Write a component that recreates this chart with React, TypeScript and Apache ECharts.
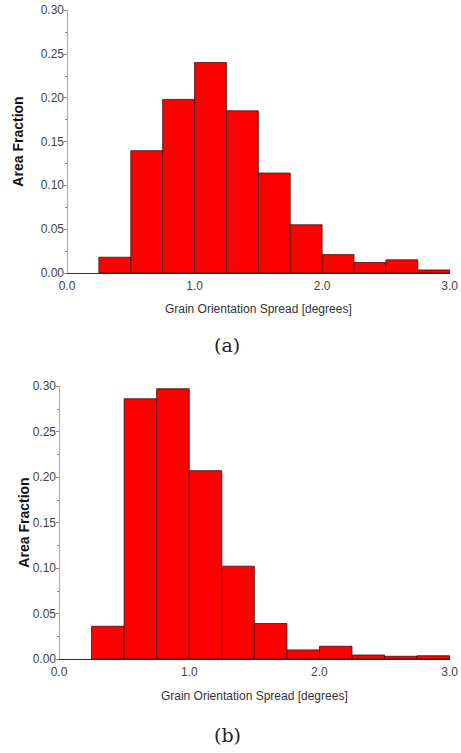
import React, { useEffect, useRef } from "react";
import * as echarts from "echarts";

const binStarts = [0.25, 0.5, 0.75, 1.0, 1.25, 1.5, 1.75, 2.0, 2.25, 2.5, 2.75];
const binWidth = 0.25;
const valuesA = [0.018, 0.1395, 0.198, 0.24, 0.185, 0.114, 0.055, 0.021, 0.012, 0.015, 0.0035];
const valuesB = [0.036, 0.286, 0.297, 0.207, 0.102, 0.039, 0.01, 0.014, 0.0044, 0.003, 0.0036];
const xTitle = "Grain Orientation Spread [degrees]";
const yTitle = "Area Fraction";
const captions = ["(a)", "(b)"];

const renderBar = (params: any, api: any) => {
  const x0 = api.value(0);
  const x1 = api.value(1);
  const v = api.value(2);
  const p0 = api.coord([x0, v]);
  const p1 = api.coord([x1, 0]);
  return {
    type: "rect",
    shape: { x: p0[0], y: p0[1], width: p1[0] - p0[0], height: p1[1] - p0[1] },
    style: { fill: "#ff0000", stroke: "#3a1010", lineWidth: 0.8 },
  };
};

const mkData = (vals: number[]) => vals.map((v, i) => [binStarts[i], binStarts[i] + binWidth, v]);

export default function App() {
  const ref = useRef<HTMLDivElement>(null);
  useEffect(() => {
    if (!ref.current) return;
    const chart = echarts.init(ref.current, undefined, { renderer: "svg" });
    const font = "Liberation Sans";
    const xAxis = (gi: number, gap: number, fs: number) => ({
      type: "value",
      gridIndex: gi,
      min: 0,
      max: 3,
      interval: 1,
      name: xTitle,
      nameLocation: "middle",
      nameGap: gap,
      nameMoveOverlap: false,
      nameTextStyle: { fontFamily: font, fontSize: 12, color: "#333" },
      axisLine: { show: true, lineStyle: { color: "#333", width: 1 } },
      axisTick: { show: false },
      splitLine: { show: false },
      axisLabel: {
        fontFamily: font,
        fontSize: fs,
        color: "#444",
        margin: 7,
        formatter: (v: number) => v.toFixed(1),
      },
    });
    const yAxis = (gi: number, gap: number, fs: number) => ({
      type: "value",
      gridIndex: gi,
      min: 0,
      max: 0.3,
      interval: 0.05,
      name: yTitle,
      nameLocation: "middle",
      nameGap: gap,
      nameMoveOverlap: false,
      nameTextStyle: { fontFamily: font, fontSize: 14, fontWeight: "bold", color: "#111" },
      axisLine: { show: true, lineStyle: { color: "#aaa", width: 1 } },
      axisTick: { show: true, length: 3, lineStyle: { color: "#888" } },
      minorTick: { show: true, splitNumber: 2, length: 2, lineStyle: { color: "#888" } },
      splitLine: { show: false },
      axisLabel: {
        fontFamily: font,
        fontSize: fs,
        color: "#444",
        margin: 3,
        formatter: (v: number) => v.toFixed(2),
      },
    });
    chart.setOption({
      animation: false,
      backgroundColor: "#ffffff",
      grid: [
        { left: 67, top: 10, width: 383, height: 263 },
        { left: 59, top: 386, width: 397, height: 273 },
      ],
      xAxis: [xAxis(0, 30, 12), xAxis(1, 31, 12)],
      yAxis: [yAxis(0, 42, 12), yAxis(1, 28, 12)],
      series: [
        {
          type: "custom",
          xAxisIndex: 0,
          yAxisIndex: 0,
          renderItem: renderBar,
          encode: { x: [0, 1], y: 2 },
          data: mkData(valuesA),
        },
        {
          type: "custom",
          xAxisIndex: 1,
          yAxisIndex: 1,
          renderItem: renderBar,
          encode: { x: [0, 1], y: 2 },
          data: mkData(valuesB),
        },
      ],
      graphic: [
        {
          type: "text",
          left: 228 - 14,
          top: 335,
          style: { text: captions[0], font: "19px 'DejaVu Serif'", fill: "#222" },
        },
        {
          type: "text",
          left: 228 - 14,
          top: 725,
          style: { text: captions[1], font: "19px 'DejaVu Serif'", fill: "#222" },
        },
      ],
    });
    return () => chart.dispose();
  }, []);
  return (
    <div
      ref={ref}
      style={{ position: "fixed", left: 0, top: 0, width: 461, height: 753, background: "#fff" }}
    />
  );
}
